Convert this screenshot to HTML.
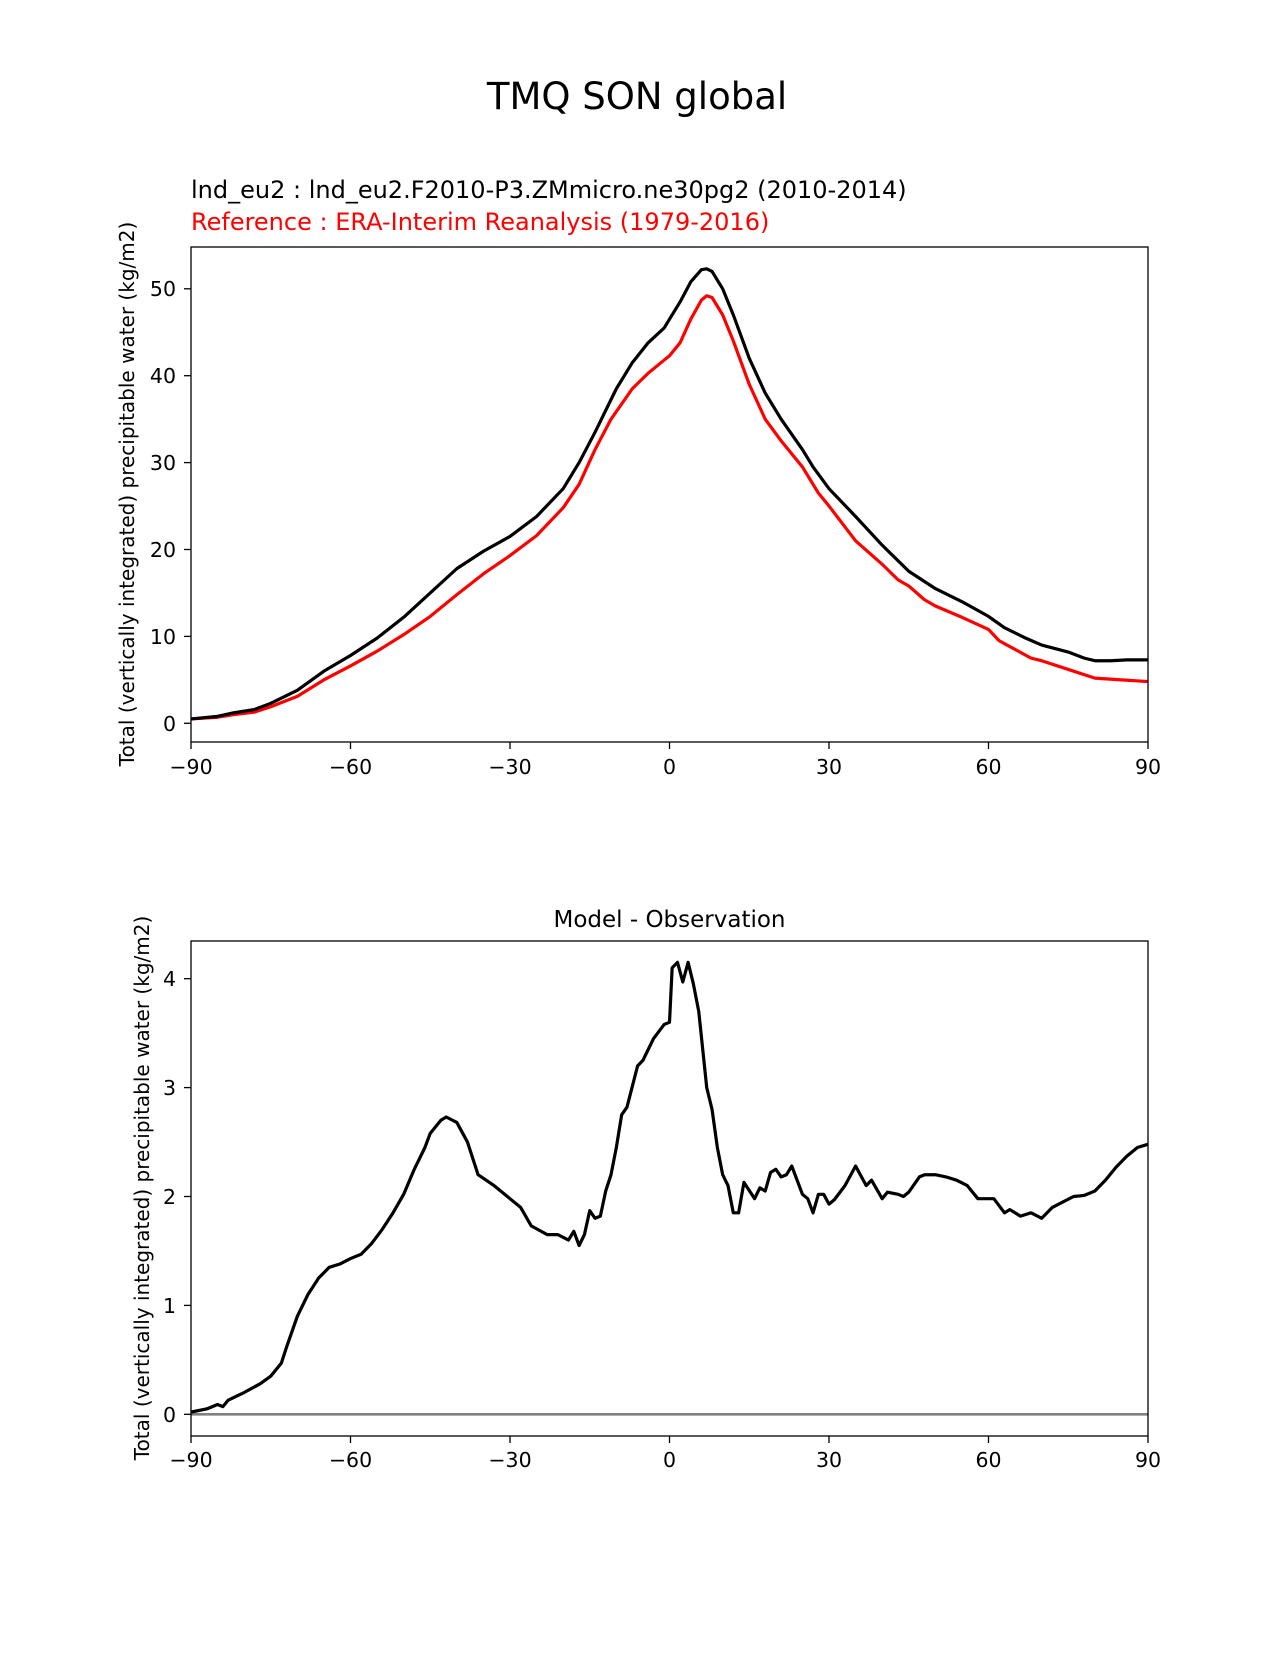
<!DOCTYPE html>
<html><head><meta charset="utf-8"><style>
html,body{margin:0;padding:0;background:#fff;}
svg text{font-family:"DejaVu Sans","Liberation Sans",sans-serif;}
</style></head><body>
<svg width="1275" height="1650" viewBox="0 0 1275 1650" xmlns="http://www.w3.org/2000/svg">
<rect width="1275" height="1650" fill="#fff"/>
<text x="637" y="109" font-size="37" text-anchor="middle">TMQ SON global</text>
<text x="191" y="198" font-size="24">lnd_eu2 : lnd_eu2.F2010-P3.ZMmicro.ne30pg2 (2010-2014)</text>
<text x="191" y="230" font-size="24" fill="red">Reference : ERA-Interim Reanalysis (1979-2016)</text>

<!-- top plot -->
<g transform="translate(669.5,723.3) scale(5.317,-8.69)">
<polyline fill="none" stroke="red" stroke-width="3.2" vector-effect="non-scaling-stroke" stroke-linejoin="round" points="-90,0.5 -85,0.7 -82,1.0 -78,1.3 -75,1.9 -70,3.1 -65,5 -60,6.6 -55,8.3 -50,10.2 -45,12.3 -40,14.8 -35,17.2 -30,19.3 -25,21.6 -20,24.8 -17,27.5 -14,31.5 -11,35 -7,38.5 -4,40.3 -1,41.8 0,42.3 2,43.8 4,46.5 6,48.7 7,49.2 8,49 10,47 12,44 15,39 18,35 21,32.5 25,29.5 28,26.5 30,25 35,21 40,18.3 43,16.5 45,15.8 48,14.2 50,13.5 55,12.2 60,10.8 62,9.5 65,8.5 68,7.5 70,7.2 75,6.2 80,5.2 85,5.0 90,4.8"/>
<polyline fill="none" stroke="#000" stroke-width="3.2" vector-effect="non-scaling-stroke" stroke-linejoin="round" points="-90,0.5 -85,0.8 -82,1.2 -78,1.6 -75,2.3 -70,3.8 -65,6 -60,7.8 -55,9.8 -50,12.2 -45,15 -40,17.8 -35,19.8 -30,21.5 -25,23.8 -20,27 -17,30 -14,33.5 -10,38.5 -7,41.5 -4,43.8 -1,45.5 0,46.5 2,48.5 4,50.8 6,52.2 7,52.3 8,52 10,50 12,47 15,42 18,38 21,35 25,31.5 27,29.5 30,27 35,23.8 40,20.5 45,17.5 50,15.5 55,14 60,12.3 63,11 67,9.8 70,9 75,8.2 78,7.5 80,7.2 83,7.2 86,7.3 90,7.3"/>
</g>
<rect x="191" y="247" width="957" height="495" fill="none" stroke="#000" stroke-width="1.3"/>
<g stroke="#000" stroke-width="1.3">
<line x1="191" y1="742" x2="191" y2="749"/><line x1="350.5" y1="742" x2="350.5" y2="749"/><line x1="510" y1="742" x2="510" y2="749"/><line x1="669.5" y1="742" x2="669.5" y2="749"/><line x1="829" y1="742" x2="829" y2="749"/><line x1="988.5" y1="742" x2="988.5" y2="749"/><line x1="1148" y1="742" x2="1148" y2="749"/>
<line x1="184" y1="723.3" x2="191" y2="723.3"/><line x1="184" y1="636.4" x2="191" y2="636.4"/><line x1="184" y1="549.5" x2="191" y2="549.5"/><line x1="184" y1="462.6" x2="191" y2="462.6"/><line x1="184" y1="375.7" x2="191" y2="375.7"/><line x1="184" y1="288.8" x2="191" y2="288.8"/>
</g>
<g font-size="20.5" text-anchor="middle">
<text x="191" y="774">−90</text><text x="350.5" y="774">−60</text><text x="510" y="774">−30</text><text x="669.5" y="774">0</text><text x="829" y="774">30</text><text x="988.5" y="774">60</text><text x="1148" y="774">90</text>
</g>
<g font-size="20.5" text-anchor="end">
<text x="176" y="731">0</text><text x="176" y="644">10</text><text x="176" y="557">20</text><text x="176" y="470">30</text><text x="176" y="383">40</text><text x="176" y="296">50</text>
</g>
<text transform="translate(134,494) rotate(-90)" font-size="20" text-anchor="middle">Total (vertically integrated) precipitable water (kg/m2)</text>

<!-- bottom plot -->
<text x="669.5" y="927" font-size="23" text-anchor="middle">Model - Observation</text>
<line x1="191" y1="1414.3" x2="1148" y2="1414.3" stroke="gray" stroke-width="2.6"/>
<g transform="translate(669.5,1414.3) scale(5.317,-108.9)">
<polyline fill="none" stroke="#000" stroke-width="3.2" vector-effect="non-scaling-stroke" stroke-linejoin="round" points="-90,0.02 -87,0.05 -85,0.09 -84,0.07 -83,0.13 -80,0.2 -77,0.28 -75,0.35 -73,0.47 -72,0.62 -70,0.9 -68,1.1 -66,1.25 -64,1.35 -62,1.38 -60,1.43 -58,1.47 -56,1.57 -54,1.7 -52,1.85 -50,2.02 -48,2.25 -46,2.45 -45,2.58 -43,2.7 -42,2.73 -40,2.68 -38,2.5 -36,2.2 -33,2.1 -30,1.98 -28,1.9 -26,1.73 -23,1.65 -21,1.65 -19,1.6 -18,1.68 -17,1.55 -16,1.65 -15,1.87 -14,1.8 -13,1.82 -12,2.05 -11,2.2 -10,2.45 -9,2.75 -8,2.82 -6,3.2 -5,3.25 -3,3.45 -1,3.58 0,3.6 0.5,4.1 1.5,4.15 2.5,3.97 3.5,4.15 4.5,3.95 5.5,3.7 7,3.0 8,2.8 9,2.45 10,2.2 11,2.1 12,1.85 13,1.85 14,2.13 16,1.98 17,2.08 18,2.05 19,2.22 20,2.25 21,2.18 22,2.2 23,2.28 25,2.02 26,1.98 27,1.85 28,2.02 29,2.02 30,1.93 31,1.97 33,2.1 35,2.28 37,2.1 38,2.15 40,1.98 41,2.04 43,2.02 44,2.0 45,2.04 47,2.18 48,2.2 50,2.2 52,2.18 54,2.15 56,2.1 58,1.98 61,1.98 63,1.85 64,1.88 66,1.82 68,1.85 70,1.8 72,1.9 74,1.95 76,2.0 78,2.01 80,2.05 82,2.15 84,2.27 86,2.37 88,2.45 90,2.48"/>
</g>
<rect x="191" y="941" width="957" height="495" fill="none" stroke="#000" stroke-width="1.3"/>
<g stroke="#000" stroke-width="1.3">
<line x1="191" y1="1436" x2="191" y2="1443"/><line x1="350.5" y1="1436" x2="350.5" y2="1443"/><line x1="510" y1="1436" x2="510" y2="1443"/><line x1="669.5" y1="1436" x2="669.5" y2="1443"/><line x1="829" y1="1436" x2="829" y2="1443"/><line x1="988.5" y1="1436" x2="988.5" y2="1443"/><line x1="1148" y1="1436" x2="1148" y2="1443"/>
<line x1="184" y1="1414.3" x2="191" y2="1414.3"/><line x1="184" y1="1305.4" x2="191" y2="1305.4"/><line x1="184" y1="1196.5" x2="191" y2="1196.5"/><line x1="184" y1="1087.6" x2="191" y2="1087.6"/><line x1="184" y1="978.7" x2="191" y2="978.7"/>
</g>
<g font-size="20.5" text-anchor="middle">
<text x="191" y="1467">−90</text><text x="350.5" y="1467">−60</text><text x="510" y="1467">−30</text><text x="669.5" y="1467">0</text><text x="829" y="1467">30</text><text x="988.5" y="1467">60</text><text x="1148" y="1467">90</text>
</g>
<g font-size="20.5" text-anchor="end">
<text x="176" y="1422">0</text><text x="176" y="1313">1</text><text x="176" y="1204">2</text><text x="176" y="1095">3</text><text x="176" y="986">4</text>
</g>
<text transform="translate(149,1188) rotate(-90)" font-size="20" text-anchor="middle">Total (vertically integrated) precipitable water (kg/m2)</text>
</svg>
</body></html>
